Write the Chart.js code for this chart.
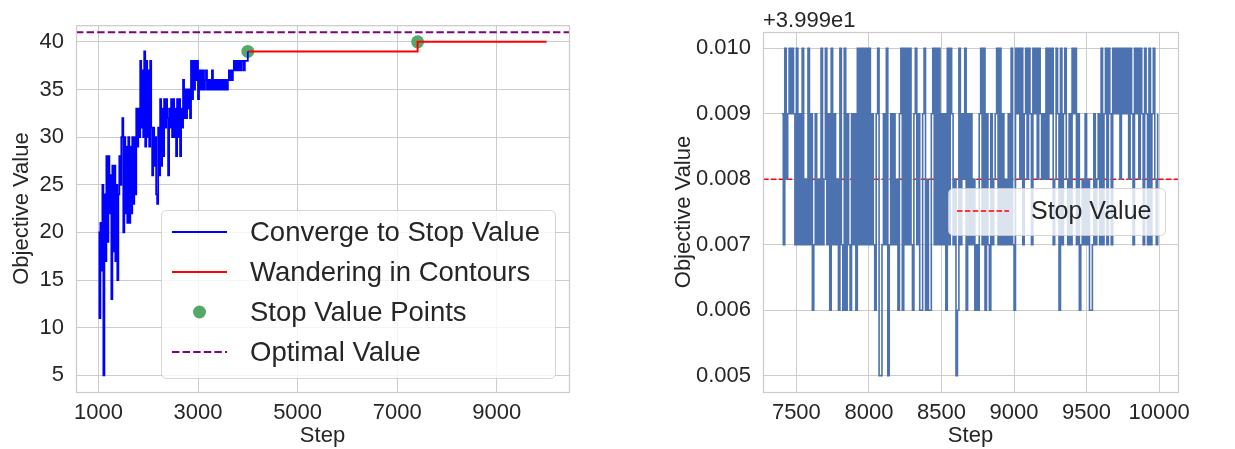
<!DOCTYPE html>
<html>
<head>
<meta charset="utf-8">
<script src="https://cdn.jsdelivr.net/npm/chart.js@4.4.1/dist/chart.umd.min.js"></script>
<style>
  html, body { margin: 0; padding: 0; background: #fff; }
  body { width: 1235px; height: 449px; position: relative; overflow: hidden; }
  canvas { position: absolute; top: 0; }
  #left { left: 0; }
  #right { left: 620px; }
</style>
</head>
<body>
<canvas id="left" width="600" height="449"></canvas>
<canvas id="right" width="615" height="449"></canvas>
<script>
// ---- left panel: converge + wander ----
const convergeSteps = [
  1000, 1020, 1040, 1060, 1080, 1100, 1120, 1140, 1160, 1180,
  1200, 1220, 1240, 1260, 1280, 1300, 1320, 1340, 1360, 1380,
  1400, 1420, 1440, 1460, 1480, 1500, 1520, 1540, 1560, 1580,
  1600, 1620, 1640, 1660, 1680, 1700, 1720, 1740, 1760, 1780,
  1800, 1820, 1840, 1860, 1880, 1900, 1920, 1940, 1960, 1980,
  2000, 2020, 2040, 2060, 2080, 2100, 2120, 2140, 2160, 2180,
  2200, 2220, 2240, 2260, 2280, 2300, 2320, 2340, 2360, 2380,
  2400, 2420, 2440, 2460, 2480, 2500, 2520, 2540, 2560, 2580,
  2600, 2620, 2640, 2660, 2680, 2700, 2720, 2740, 2760, 2780,
  2800, 2820, 2840, 2860, 2880, 2900, 2920, 2940, 2960, 2980,
  3000, 3020, 3040, 3060, 3080, 3100, 3120, 3140, 3160, 3180,
  3200, 3220, 3240, 3260, 3280, 3300, 3320, 3340, 3360, 3380,
  3400, 3420, 3440, 3460, 3480, 3500, 3520, 3540, 3560, 3580,
  3600, 3620, 3640, 3660, 3680, 3700, 3720, 3740, 3760, 3780,
  3800, 3820, 3840, 3860, 3880, 3900, 3920, 3940, 3960, 3980,
  4000,
];
const convergeValues = [
  20, 11, 21, 16, 25, 5, 24, 17, 28, 19,
  28, 22, 26, 13, 27, 18, 27, 17, 25, 15,
  24, 28, 25, 30, 32, 20, 30, 22, 29, 21,
  30, 21, 29, 22, 30, 23, 30, 24, 33, 29,
  33, 30, 38, 31, 37, 30, 39, 29, 38, 30,
  37, 29, 38, 31, 26, 31, 27, 30, 24, 23,
  31, 26, 34, 27, 33, 28, 34, 31, 34, 32,
  26, 33, 31, 34, 30, 34, 30, 33, 28, 34,
  30, 34, 28, 33, 31, 36, 32, 35, 32, 35,
  33, 35, 32, 38, 34, 38, 35, 38, 36, 38,
  34, 37, 35, 37, 35, 37, 35, 36, 37, 35,
  36, 35, 36, 35, 37, 35, 36, 35, 36, 35,
  36, 35, 36, 35, 36, 35, 36, 35, 36, 35,
  36, 37, 36, 37, 36, 37, 38, 37, 38, 37,
  38, 37, 38, 37, 38, 38, 37, 38, 38, 38,
  39,
];
const wanderSteps = [4000, 7410, 7410, 10000];
const wanderValues = [39, 39, 40, 40];
const stopPointSteps = [4000, 7410];
const stopPointValues = [39, 40];
const optimalValue = 41;

const leftXTicks = [1000, 3000, 5000, 7000, 9000];
const leftYTicks = [5, 10, 15, 20, 25, 30, 35, 40];
const leftXRange = [550, 10450];
const leftYRange = [3.25, 41.75];

// ---- right panel: wandering detail (values in thousandths above the offset) ----
const rightOffset = 39.99;
const rightSteps = [
  7400, 7410, 7420, 7430, 7440, 7450, 7460, 7470, 7480, 7490,
  7500, 7510, 7520, 7530, 7540, 7550, 7560, 7570, 7580, 7590,
  7600, 7610, 7620, 7630, 7640, 7650, 7660, 7670, 7680, 7690,
  7700, 7710, 7720, 7730, 7740, 7750, 7760, 7770, 7780, 7790,
  7800, 7810, 7820, 7830, 7840, 7850, 7860, 7870, 7880, 7890,
  7900, 7910, 7920, 7930, 7940, 7950, 7960, 7970, 7980, 7990,
  8000, 8010, 8020, 8030, 8040, 8050, 8060, 8070, 8080, 8090,
  8100, 8110, 8120, 8130, 8140, 8150, 8160, 8170, 8180, 8190,
  8200, 8210, 8220, 8230, 8240, 8250, 8260, 8270, 8280, 8290,
  8300, 8310, 8320, 8330, 8340, 8350, 8360, 8370, 8380, 8390,
  8400, 8410, 8420, 8430, 8440, 8450, 8460, 8470, 8480, 8490,
  8500, 8510, 8520, 8530, 8540, 8550, 8560, 8570, 8580, 8590,
  8600, 8610, 8620, 8630, 8640, 8650, 8660, 8670, 8680, 8690,
  8700, 8710, 8720, 8730, 8740, 8750, 8760, 8770, 8780, 8790,
  8800, 8810, 8820, 8830, 8840, 8850, 8860, 8870, 8880, 8890,
  8900, 8910, 8920, 8930, 8940, 8950, 8960, 8970, 8980, 8990,
  9000, 9010, 9020, 9030, 9040, 9050, 9060, 9070, 9080, 9090,
  9100, 9110, 9120, 9130, 9140, 9150, 9160, 9170, 9180, 9190,
  9200, 9210, 9220, 9230, 9240, 9250, 9260, 9270, 9280, 9290,
  9300, 9310, 9320, 9330, 9340, 9350, 9360, 9370, 9380, 9390,
  9400, 9410, 9420, 9430, 9440, 9450, 9460, 9470, 9480, 9490,
  9500, 9510, 9520, 9530, 9540, 9550, 9560, 9570, 9580, 9590,
  9600, 9610, 9620, 9630, 9640, 9650, 9660, 9670, 9680, 9690,
  9700, 9710, 9720, 9730, 9740, 9750, 9760, 9770, 9780, 9790,
  9800, 9810, 9820, 9830, 9840, 9850, 9860, 9870, 9880, 9890,
  9900, 9910, 9920, 9930, 9940, 9950, 9960, 9970, 9980, 9990,
];
const rightMilli = [
  9, 7, 10, 8, 9, 10, 9, 10, 9, 7,
  10, 7, 9, 7, 10, 7, 8, 7, 10, 7,
  9, 6, 7, 9, 7, 8, 7, 10, 7, 8,
  10, 7, 9, 6, 10, 7, 9, 7, 8, 6,
  10, 7, 6, 10, 6, 9, 7, 6, 9, 7,
  9, 6, 10, 7, 10, 7, 10, 7, 10, 7,
  10, 7, 9, 7, 6, 9, 10, 5, 5, 7,
  9, 7, 10, 5, 7, 9, 7, 9, 7, 8,
  6, 9, 10, 6, 10, 7, 10, 7, 10, 7,
  6, 9, 10, 7, 9, 6, 6, 9, 10, 6,
  8, 6, 6, 9, 10, 7, 10, 7, 10, 7,
  9, 7, 9, 6, 10, 7, 10, 9, 7, 8,
  5, 6, 10, 7, 9, 8, 10, 6, 9, 7,
  9, 7, 8, 6, 7, 6, 9, 10, 7, 10,
  6, 9, 7, 6, 9, 7, 8, 9, 10, 7,
  10, 7, 9, 7, 8, 7, 9, 7, 10, 7,
  6, 10, 9, 10, 8, 10, 7, 9, 10, 8,
  10, 9, 7, 10, 9, 10, 8, 10, 9, 8,
  9, 8, 10, 8, 10, 9, 10, 7, 8, 10,
  9, 6, 10, 7, 9, 10, 8, 7, 9, 7,
  10, 9, 10, 7, 9, 6, 7, 8, 7, 9,
  7, 8, 6, 6, 7, 9, 7, 8, 9, 7,
  10, 7, 9, 10, 7, 10, 9, 7, 10, 9,
  10, 9, 10, 8, 10, 9, 10, 9, 10, 8,
  10, 9, 7, 10, 9, 10, 8, 10, 9, 7,
  10, 9, 7, 10, 7, 9, 10, 8, 7, 9,
];
const stopValue = 39.998;

const rightXTicks = [7500, 8000, 8500, 9000, 9500, 10000];
const rightYTicks = [39.995, 39.996, 39.997, 39.998, 39.999, 40.0];
const rightXRange = [7270, 10130];
const rightYRange = [39.99475, 40.00025];

// ---- styling ----
const fontFamily = "'Liberation Sans', Arial, Helvetica, sans-serif";
const textColor = "#262626";
const gridColor = "#cccccc";
Chart.defaults.font.family = fontFamily;
Chart.defaults.color = textColor;

const pairs = (xs, ys) => xs.map((x, i) => ({ x, y: ys[i] }));
const fixedTicks = (values) => (scale) => {
  scale.ticks = values.map((v) => ({ value: v }));
};

function roundRect(ctx, x, y, w, h, r) {
  ctx.beginPath();
  ctx.moveTo(x + r, y);
  ctx.lineTo(x + w - r, y);
  ctx.arcTo(x + w, y, x + w, y + r, r);
  ctx.lineTo(x + w, y + h - r);
  ctx.arcTo(x + w, y + h, x + w - r, y + h, r);
  ctx.lineTo(x + r, y + h);
  ctx.arcTo(x, y + h, x, y + h - r, r);
  ctx.lineTo(x, y + r);
  ctx.arcTo(x, y, x + r, y, r);
  ctx.closePath();
}

// axes frame on all four sides (seaborn whitegrid)
const frame = {
  id: "frame",
  afterDatasetsDraw(chart) {
    const { ctx, chartArea: a } = chart;
    ctx.save();
    ctx.strokeStyle = gridColor;
    ctx.lineWidth = 1.25;
    ctx.strokeRect(a.left + 0.5, a.top + 0.5, a.right - a.left, a.bottom - a.top);
    ctx.restore();
  },
};

// matplotlib-like legend drawn inside the axes
function makeLegend(o) {
  return {
    id: "innerLegend",
    afterDraw(chart) {
      const { ctx, chartArea: a } = chart;
      const x0 = a.right - o.offsetRight - o.width;
      const y0 = o.offsetTop != null ? a.top + o.offsetTop : a.bottom - o.offsetBottom - o.height;
      ctx.save();
      roundRect(ctx, x0 + 0.5, y0 + 0.5, o.width, o.height, 5);
      ctx.fillStyle = "rgba(255,255,255,0.8)";
      ctx.fill();
      ctx.strokeStyle = "rgba(204,204,204,0.8)";
      ctx.lineWidth = 1;
      ctx.stroke();
      o.items.forEach((idx, i) => {
        const ds = chart.data.datasets[idx];
        const cy = y0 + o.firstRow + i * o.rowGap;
        const hx = x0 + o.handleLeft;
        if (ds.showLine === false) {
          ctx.beginPath();
          ctx.arc(hx + o.handleLen / 2, cy, ds.pointRadius, 0, Math.PI * 2);
          ctx.fillStyle = ds.backgroundColor;
          ctx.fill();
        } else {
          ctx.beginPath();
          ctx.setLineDash(ds.borderDash || []);
          ctx.moveTo(hx, cy);
          ctx.lineTo(hx + o.handleLen, cy);
          ctx.strokeStyle = ds.borderColor;
          ctx.lineWidth = ds.borderWidth;
          ctx.stroke();
          ctx.setLineDash([]);
        }
        ctx.fillStyle = textColor;
        ctx.font = `${o.fontSize}px ${fontFamily}`;
        ctx.textBaseline = "middle";
        ctx.textAlign = "left";
        ctx.fillText(ds.label, x0 + o.textLeft, cy + 1);
      });
      ctx.restore();
    },
  };
}

const offsetText = {
  id: "offsetText",
  afterDraw(chart) {
    const { ctx, chartArea: a } = chart;
    ctx.save();
    ctx.fillStyle = textColor;
    ctx.font = `22px ${fontFamily}`;
    ctx.textBaseline = "middle";
    ctx.textAlign = "left";
    ctx.fillText("+3.999e1", a.left, a.top - 11);
    ctx.restore();
  },
};

function axis(range, ticks, extra) {
  return Object.assign(
    {
      type: "linear",
      min: range[0],
      max: range[1],
      afterBuildTicks: fixedTicks(ticks),
      grid: { color: gridColor, lineWidth: 1, drawTicks: false },
      border: { display: false },
    },
    extra
  );
}

// ---- left chart ----
new Chart(document.getElementById("left").getContext("2d"), {
  type: "line",
  data: {
    datasets: [
      {
        label: "Converge to Stop Value",
        data: pairs(convergeSteps, convergeValues),
        borderColor: "#0000ff",
        borderWidth: 1.8,
        stepped: true,
        pointRadius: 0,
      },
      {
        label: "Wandering in Contours",
        data: pairs(wanderSteps, wanderValues),
        borderColor: "#ff0000",
        borderWidth: 2,
        pointRadius: 0,
      },
      {
        label: "Stop Value Points",
        data: pairs(stopPointSteps, stopPointValues),
        showLine: false,
        pointRadius: 6.5,
        pointBorderWidth: 0,
        backgroundColor: "#55a868",
        pointBackgroundColor: "#55a868",
      },
      {
        label: "Optimal Value",
        data: pairs(leftXRange, [optimalValue, optimalValue]),
        borderColor: "#800080",
        borderWidth: 2,
        borderDash: [7.4, 3.2],
        pointRadius: 0,
      },
    ],
  },
  options: {
    responsive: false,
    animation: false,
    layout: { padding: { left: 0, top: 12, right: 31, bottom: 0 } },
    plugins: { legend: { display: false }, tooltip: { enabled: false } },
    scales: {
      x: axis(leftXRange, leftXTicks, {
        ticks: { font: { size: 22 }, padding: 8, maxRotation: 0, autoSkip: false, callback: (v) => String(v) },
        title: { display: true, text: "Step", font: { size: 22 }, padding: { top: 0, bottom: 0 } },
        afterFit: (s) => { s.height = 57; },
      }),
      y: axis(leftYRange, leftYTicks, {
        ticks: { font: { size: 22 }, padding: 12, callback: (v) => String(v) },
        title: { display: true, text: "Objective Value", font: { size: 22 }, padding: { top: 9, bottom: 0 } },
        afterFit: (s) => { s.width = 76; },
      }),
    },
  },
  plugins: [
    frame,
    makeLegend({
      width: 394, height: 168, offsetRight: 14, offsetBottom: 14,
      firstRow: 22, rowGap: 40, handleLeft: 11, handleLen: 55, textLeft: 89,
      fontSize: 27.5, items: [0, 1, 2, 3],
    }),
  ],
});

// ---- right chart ----
new Chart(document.getElementById("right").getContext("2d"), {
  type: "line",
  data: {
    datasets: [
      {
        label: "Objective",
        data: pairs(rightSteps, rightMilli.map((m) => rightOffset + m / 1000)),
        borderColor: "#4c72b0",
        borderWidth: 1.6,
        stepped: true,
        pointRadius: 0,
      },
      {
        label: "Stop Value",
        data: pairs(rightXRange, [stopValue, stopValue]),
        borderColor: "#ff0000",
        borderWidth: 1.5,
        borderDash: [5.5, 2.4],
        pointRadius: 0,
      },
    ],
  },
  options: {
    responsive: false,
    animation: false,
    layout: { padding: { left: 0, top: 32, right: 57, bottom: 0 } },
    plugins: { legend: { display: false }, tooltip: { enabled: false } },
    scales: {
      x: axis(rightXRange, rightXTicks, {
        ticks: { font: { size: 22 }, padding: 8, maxRotation: 0, autoSkip: false, callback: (v) => String(v) },
        title: { display: true, text: "Step", font: { size: 22 }, padding: { top: 0, bottom: 0 } },
        afterFit: (s) => { s.height = 57; },
      }),
      y: axis(rightYRange, rightYTicks, {
        ticks: { font: { size: 22 }, padding: 12, callback: (v) => (v - rightOffset).toFixed(3) },
        title: { display: true, text: "Objective Value", font: { size: 22 }, padding: { top: 51, bottom: 0 } },
        afterFit: (s) => { s.width = 143; },
      }),
    },
  },
  plugins: [
    frame,
    offsetText,
    makeLegend({
      width: 217, height: 47, offsetRight: 13, offsetTop: 156,
      firstRow: 23, rowGap: 40, handleLeft: 9, handleLen: 52, textLeft: 83,
      fontSize: 25, items: [1],
    }),
  ],
});
</script>
</body>
</html>
